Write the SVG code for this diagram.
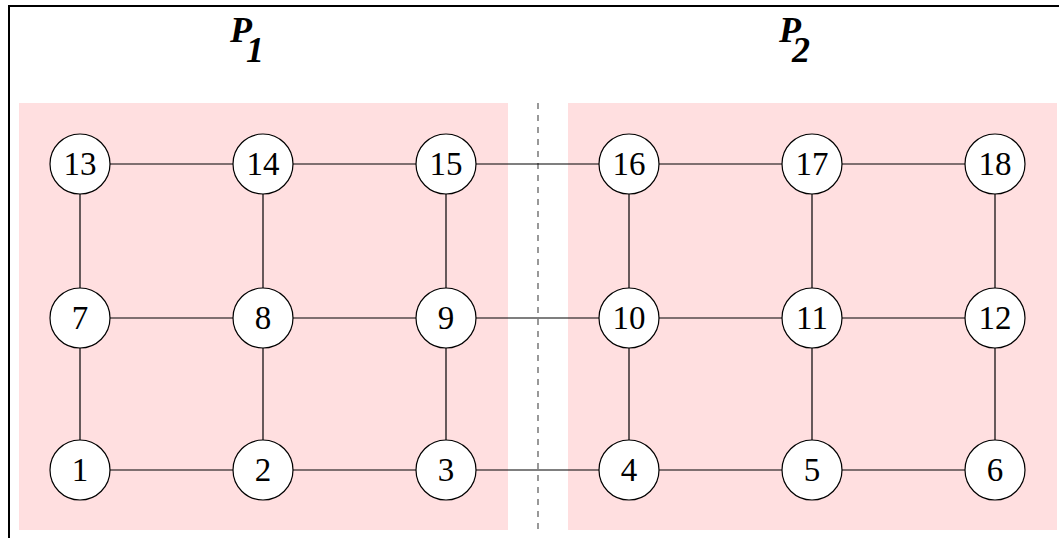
<svg xmlns="http://www.w3.org/2000/svg" width="1059" height="538" viewBox="0 0 1059 538">
<style>
.part{fill:#ffdfe0;}
.n circle{fill:#fff;stroke:#000;stroke-width:1.2;}
.n text{font-family:"Liberation Serif",serif;font-size:33px;text-anchor:middle;fill:#000;}
.e line{stroke:#000;stroke-width:1.2;}
.t{font-family:"Liberation Serif",serif;font-size:36px;font-weight:bold;font-style:italic;fill:#000;}
</style>
<rect x="0" y="0" width="1059" height="538" fill="#fff"/>
<path d="M9,538 V6 H1059" fill="none" stroke="#000" stroke-width="2"/>
<rect class="part" x="19" y="103" width="489" height="427"/>
<rect class="part" x="568" y="103" width="489" height="427"/>
<line x1="538" y1="103" x2="538" y2="530" stroke="#555" stroke-width="1.2" stroke-dasharray="6,6"/>
<text class="t" x="230" y="42">P<tspan dx="-6" dy="20">1</tspan></text>
<text class="t" x="779" y="42">P<tspan dx="-9" dy="20">2</tspan></text>
<g class="e" id="connectors">
<line x1="80" y1="164" x2="995" y2="164"/>
<line x1="80" y1="318" x2="995" y2="318"/>
<line x1="80" y1="470" x2="995" y2="470"/>
<line x1="80" y1="164" x2="80" y2="470"/>
<line x1="263" y1="164" x2="263" y2="470"/>
<line x1="446" y1="164" x2="446" y2="470"/>
<line x1="629" y1="164" x2="629" y2="470"/>
<line x1="812" y1="164" x2="812" y2="470"/>
<line x1="995" y1="164" x2="995" y2="470"/>
</g>
<g class="n" id="n1"><circle cx="80" cy="470" r="30"/><text x="80" y="481">1</text></g>
<g class="n" id="n2"><circle cx="263" cy="470" r="30"/><text x="263" y="481">2</text></g>
<g class="n" id="n3"><circle cx="446" cy="470" r="30"/><text x="446" y="481">3</text></g>
<g class="n" id="n4"><circle cx="629" cy="470" r="30"/><text x="629" y="481">4</text></g>
<g class="n" id="n5"><circle cx="812" cy="470" r="30"/><text x="812" y="481">5</text></g>
<g class="n" id="n6"><circle cx="995" cy="470" r="30"/><text x="995" y="481">6</text></g>
<g class="n" id="n7"><circle cx="80" cy="318" r="30"/><text x="80" y="329">7</text></g>
<g class="n" id="n8"><circle cx="263" cy="318" r="30"/><text x="263" y="329">8</text></g>
<g class="n" id="n9"><circle cx="446" cy="318" r="30"/><text x="446" y="329">9</text></g>
<g class="n" id="n10"><circle cx="629" cy="318" r="30"/><text x="629" y="329">10</text></g>
<g class="n" id="n11"><circle cx="812" cy="318" r="30"/><text x="812" y="329">11</text></g>
<g class="n" id="n12"><circle cx="995" cy="318" r="30"/><text x="995" y="329">12</text></g>
<g class="n" id="n13"><circle cx="80" cy="164" r="30"/><text x="80" y="175">13</text></g>
<g class="n" id="n14"><circle cx="263" cy="164" r="30"/><text x="263" y="175">14</text></g>
<g class="n" id="n15"><circle cx="446" cy="164" r="30"/><text x="446" y="175">15</text></g>
<g class="n" id="n16"><circle cx="629" cy="164" r="30"/><text x="629" y="175">16</text></g>
<g class="n" id="n17"><circle cx="812" cy="164" r="30"/><text x="812" y="175">17</text></g>
<g class="n" id="n18"><circle cx="995" cy="164" r="30"/><text x="995" y="175">18</text></g>
</svg>
